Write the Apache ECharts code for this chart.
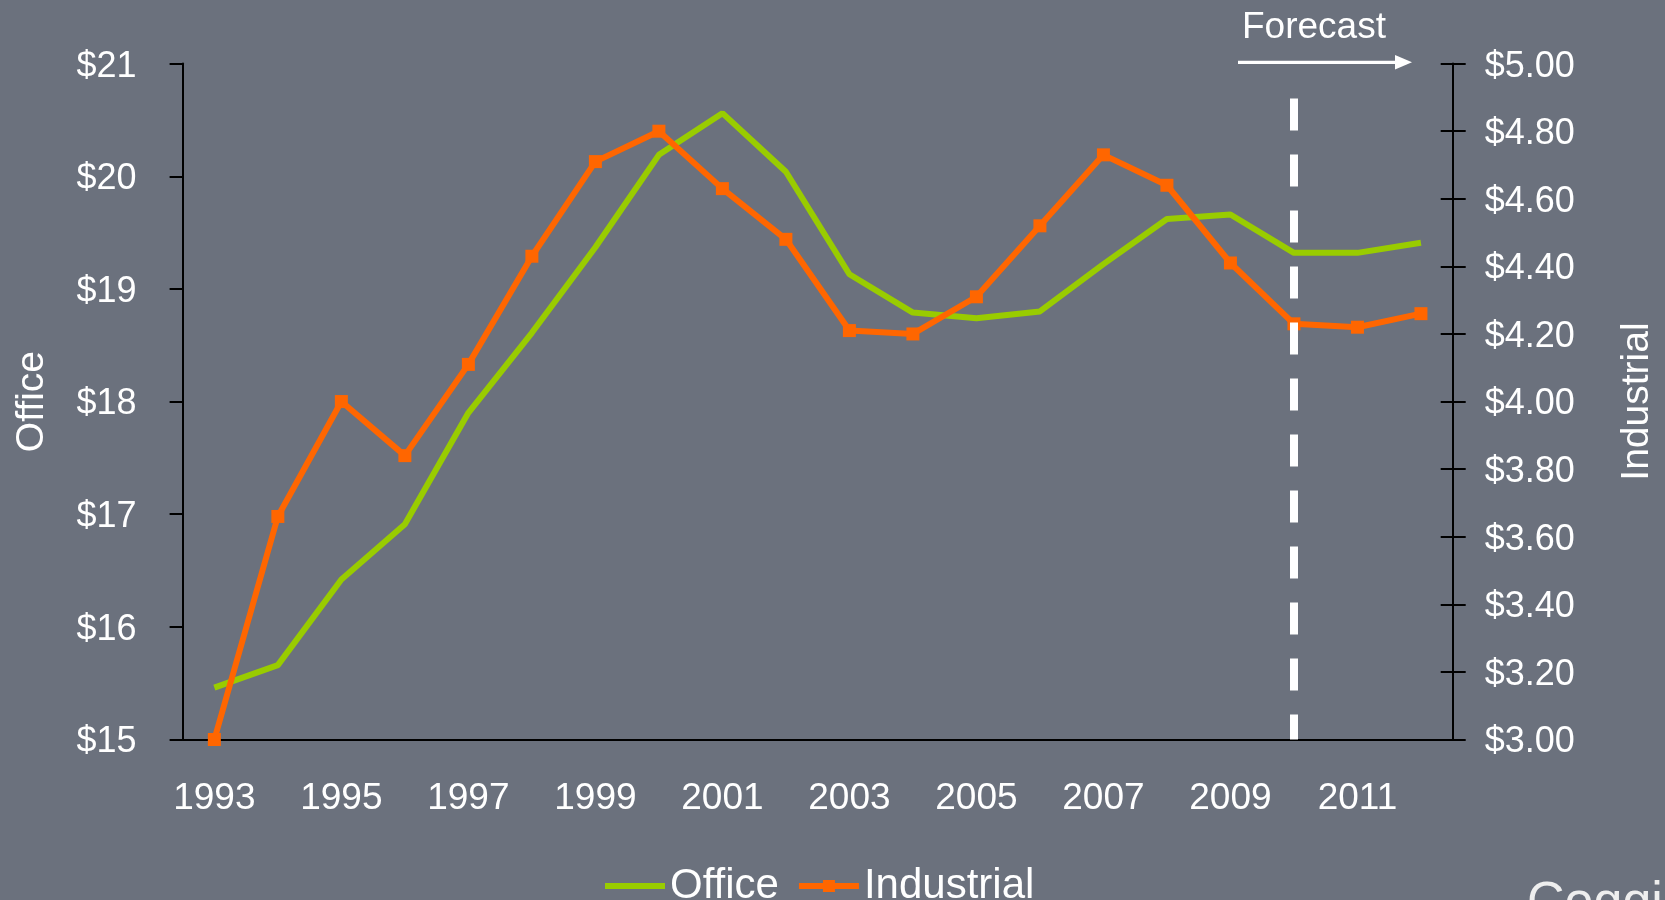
<!DOCTYPE html>
<html>
<head>
<meta charset="utf-8">
<script src="https://cdn.jsdelivr.net/npm/echarts@6/dist/echarts.min.js"></script>
<style>
    html, body { margin: 0; padding: 0; background: #6b717d; }
    #chart { width: 1665px; height: 900px; }
</style>
</head>
<body>
<div id="chart"></div>
<script>
// 年份（类目）
var years = ['1993', '1994', '1995', '1996', '1997', '1998', '1999', '2000', '2001', '2002',
    '2003', '2004', '2005', '2006', '2007', '2008', '2009', '2010', '2011', '2012'];
// 写字楼租金（左轴）
var office = [15.46, 15.66, 16.42, 16.91, 17.90, 18.61, 19.37, 20.19, 20.56, 20.04,
    19.13, 18.79, 18.74, 18.80, 19.22, 19.62, 19.66, 19.32, 19.32, 19.41];
// 工业租金（右轴）
var industrial = [3.00, 3.66, 4.00, 3.84, 4.11, 4.43, 4.71, 4.80, 4.63, 4.48,
    4.21, 4.20, 4.31, 4.52, 4.73, 4.64, 4.41, 4.23, 4.22, 4.26];
// 预测起点
var forecastYear = '2010';
var forecastTop = 20.69;

var font = "'Liberation Sans', Arial, sans-serif";
var chart = echarts.init(document.getElementById('chart'));

// 刻度文字整体下移一点
var tickRich = {
    a: { padding: [6, 0, 0, 0], color: '#fff', fontSize: 36, fontFamily: font }
};

chart.setOption({
    backgroundColor: '#6b717d',
    animation: false,
    textStyle: { fontFamily: font, color: '#fff' },
    grid: {
        left: 182.6,
        right: 212.3,
        top: 63.6,
        bottom: 160.5,
        outerBoundsMode: 'none'
    },
    legend: {
        data: [
            { name: 'Office', itemStyle: { opacity: 0 } },
            { name: 'Industrial' }
        ],
        left: 597,
        top: 860,
        itemWidth: 60,
        itemHeight: 15,
        itemGap: 17,
        lineStyle: { width: 6 },
        textStyle: { color: '#fff', fontSize: 42, fontFamily: font }
    },
    xAxis: {
        type: 'category',
        data: years,
        boundaryGap: true,
        axisLine: { lineStyle: { color: '#000', width: 2 } },
        axisTick: { interval: 0, length: 13, lineStyle: { color: '#000', width: 2 } },
        axisLabel: { interval: 1, margin: 41, color: '#fff', fontSize: 37, fontFamily: font },
        splitLine: { show: false }
    },
    yAxis: [
        {
            type: 'value',
            position: 'left',
            min: 15,
            max: 21,
            interval: 1,
            name: 'Office',
            nameLocation: 'middle',
            nameGap: 131,
            nameMoveOverlap: false,
            nameTextStyle: { color: '#fff', fontSize: 39, fontFamily: font },
            axisLine: { show: true, lineStyle: { color: '#000', width: 2 } },
            axisTick: { show: true, length: 13, lineStyle: { color: '#000', width: 2 } },
            axisLabel: {
                margin: 46,
                formatter: function (v) { return '{a|$' + v + '}'; },
                rich: tickRich
            },
            splitLine: { show: false }
        },
        {
            type: 'value',
            position: 'right',
            min: 3,
            max: 5,
            interval: 0.2,
            name: 'Industrial',
            nameLocation: 'middle',
            nameGap: 165,
            nameMoveOverlap: false,
            nameTextStyle: { color: '#fff', fontSize: 39, fontFamily: font },
            axisLine: { show: true, lineStyle: { color: '#000', width: 2 } },
            axisTick: { show: true, length: 13, lineStyle: { color: '#000', width: 2 } },
            axisLabel: {
                margin: 32,
                formatter: function (v) { return '{a|$' + v.toFixed(2) + '}'; },
                rich: tickRich
            },
            splitLine: { show: false }
        },
        {
            // 右轴向内的刻度
            type: 'value',
            position: 'right',
            min: 3,
            max: 5,
            interval: 0.2,
            axisLine: { show: false },
            axisTick: { show: true, inside: true, length: 12, lineStyle: { color: '#000', width: 2 } },
            axisLabel: { show: false },
            splitLine: { show: false }
        }
    ],
    series: [
        {
            name: 'Office',
            type: 'line',
            yAxisIndex: 0,
            data: office,
            symbol: 'none',
            lineStyle: { color: '#99cc00', width: 6 },
            itemStyle: { color: '#99cc00' },
            markLine: {
                silent: true,
                symbol: 'none',
                label: { show: false },
                lineStyle: { color: '#fff', width: 8, type: [32, 24], opacity: 1 },
                data: [
                    [
                        { coord: [forecastYear, forecastTop] },
                        { coord: [forecastYear, 15] }
                    ]
                ]
            }
        },
        {
            name: 'Industrial',
            type: 'line',
            yAxisIndex: 1,
            data: industrial,
            symbol: 'rect',
            symbolSize: 13,
            showSymbol: true,
            lineStyle: { color: '#ff6600', width: 6 },
            itemStyle: { color: '#ff6600' }
        }
    ],
    graphic: [
        {
            type: 'text',
            left: 1242,
            top: 9,
            style: { text: 'Forecast', fill: '#fff', font: '37px ' + font }
        },
        {
            type: 'line',
            shape: { x1: 1238, y1: 62.3, x2: 1398, y2: 62.3 },
            style: { stroke: '#fff', lineWidth: 3.3 }
        },
        {
            type: 'polygon',
            shape: { points: [[1395, 55], [1412, 62.3], [1395, 69.6]] },
            style: { fill: '#fff' }
        },
        {
            type: 'text',
            left: 1527,
            top: 878,
            style: { text: 'Coggi', fill: '#eeeeee', font: '52px ' + font }
        }
    ]
});
</script>
</body>
</html>
